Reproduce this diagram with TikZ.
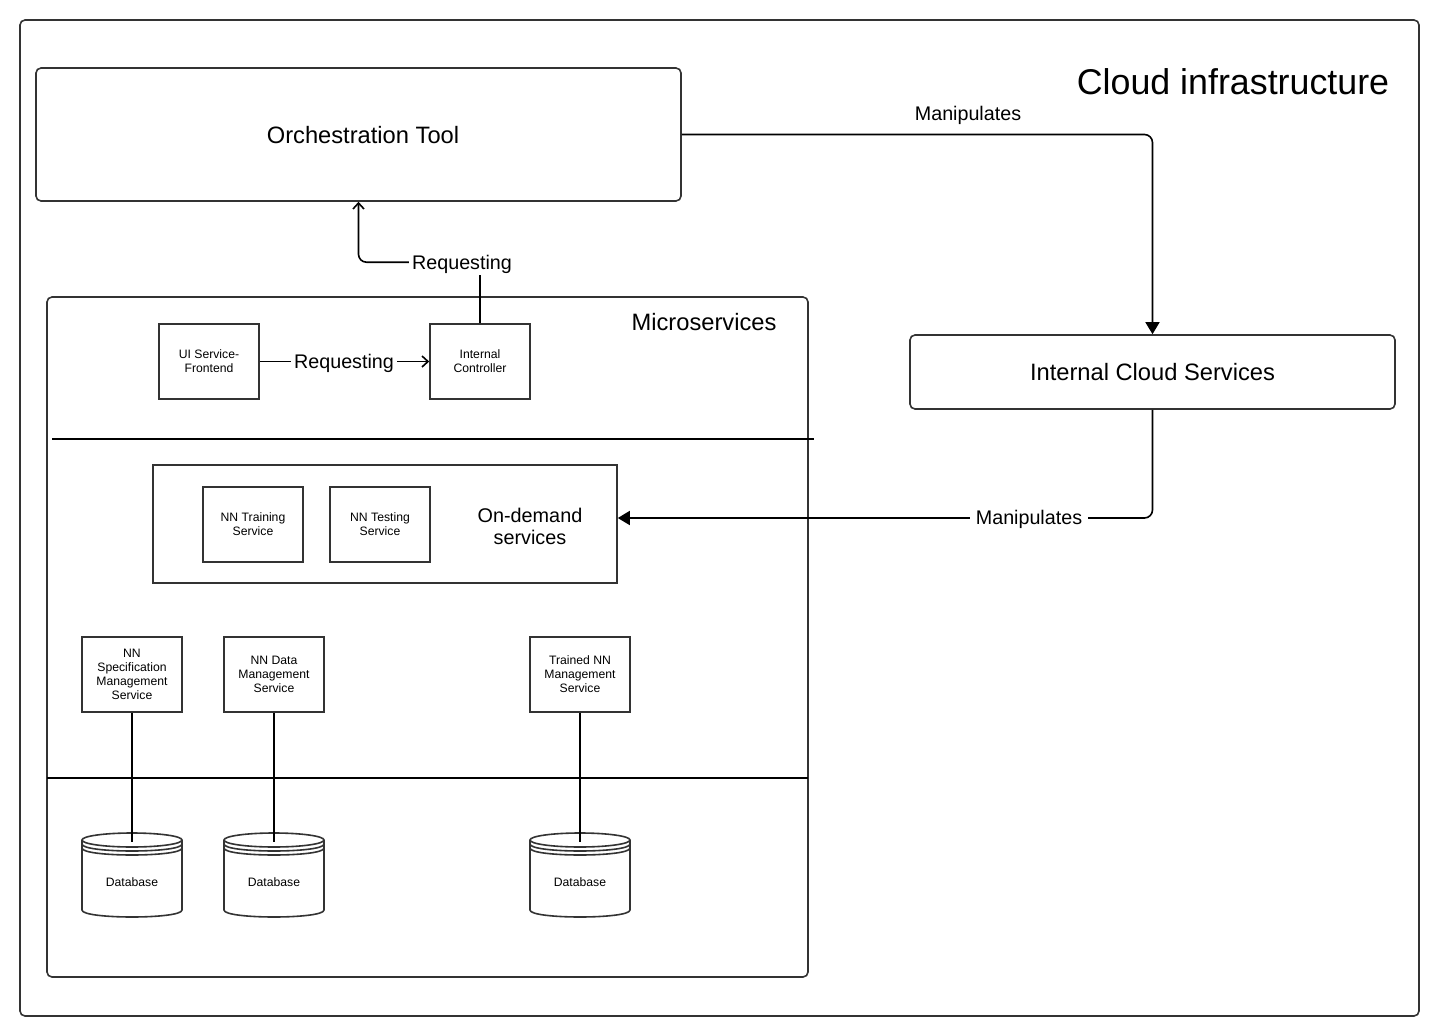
\documentclass[tikz,border=0pt]{standalone}
\usepackage{fontspec}
\setmainfont{Liberation Sans}
\usetikzlibrary{arrows.meta,calc}
\definecolor{lc}{RGB}{51,51,51}
\tikzset{
  outerframe/.style={draw=lc, line width=1.6pt, rounded corners=5pt, inner sep=0pt},
  bigbox/.style={draw=lc, line width=1.6pt, rounded corners=5pt, inner sep=0pt, font=\fontsize{23.7}{28}\selectfont},
  svc/.style={draw=lc, line width=1.6pt, minimum width=100pt, minimum height=75pt, inner sep=0pt, align=center, font=\fontsize{12.2}{14}\selectfont},
  title/.style={inner sep=0pt, font=\fontsize{23.7}{28}\selectfont},
  bigtitle/.style={inner sep=0pt, font=\fontsize{35.8}{40}\selectfont},
  lbl/.style={fill=white, inner xsep=3.5pt, inner ysep=2pt, font=\fontsize{19.7}{22}\selectfont},
  midtext/.style={inner sep=0pt, align=center, font=\fontsize{19.8}{22}\selectfont},
  dbtext/.style={inner sep=0pt, font=\fontsize{12.2}{14}\selectfont},
  conn/.style={draw=black, line width=1.6pt},
  sepline/.style={draw=black, line width=1.6pt},
  dbline/.style={draw=lc, line width=1.6pt, fill=white},
  openarr/.style={conn, -{Straight Barb[length=6pt,width=11pt]}},
  blockarr/.style={conn, -{Triangle[length=12pt,width=14pt]}},
}
\newcommand\database[2]{%
  \draw[dbline] (#2-50,840) -- (#2-50,910) .. controls (#2-50,919.33) and (#2+50,919.33) .. (#2+50,910) -- (#2+50,840);
  \draw[dbline] (#2,840) ellipse [x radius=50pt, y radius=7pt];
  \draw[dbline, fill=none] (#2-50,844) .. controls (#2-50,853.33) and (#2+50,853.33) .. (#2+50,844);
  \draw[dbline, fill=none] (#2-50,848) .. controls (#2-50,857.33) and (#2+50,857.33) .. (#2+50,848);
  \node[dbtext] (#1) at (#2,882) {Database};
  \coordinate (#1top) at (#2,842);
}
\begin{document}
\begin{tikzpicture}[x=1pt,y=-1pt]
\useasboundingbox (0,0) rectangle (1441,1036);
% frames
\node[outerframe, minimum width=1399pt, minimum height=996pt] (frame) at (719.5,518) {};
\node[bigtitle] (cloud) at (1233,82) {Cloud infrastructure};
\node[draw=lc, line width=1.6pt, rounded corners=5pt, minimum width=645pt, minimum height=133pt] (orch) at (358.5,134.5) {};
\node[title] (orchtext) at (363,135.5) {Orchestration Tool};
\node[bigbox, minimum width=485pt, minimum height=74pt] (ics) at (1152.5,372) {Internal Cloud Services};
\node[outerframe, minimum width=761pt, minimum height=680pt] (ms) at (427.5,637) {};
\node[title] (mstitle) at (704,322) {Microservices};
% separators
\draw[sepline] (52,439) -- (814,439);
\draw[sepline] (47,778) -- (808,778);
% services
\node[svc] (ui) at (209,361.5) {UI Service-\\Frontend};
\node[svc] (ic) at (480,361.5) {Internal\\Controller};
\node[draw=lc, line width=1.6pt, minimum width=464pt, minimum height=118pt, inner sep=0pt] (od) at (385,524) {};
\node[svc] (train) at (253,524.5) {NN Training\\Service};
\node[svc] (test) at (380,524.5) {NN Testing\\Service};
\node[midtext] (odtext) at (530,526) {On-demand\\services};
\node[svc] (spec) at (132,674.5) {NN\\Specification\\Management\\Service};
\node[svc] (data) at (274,674.5) {NN Data\\Management\\Service};
\node[svc] (trained) at (580,674.5) {Trained NN\\Management\\Service};
% databases
\database{db1}{132}
\database{db2}{274}
\database{db3}{580}
% connectors
\draw[conn] (spec.south) -- (db1top);
\draw[conn] (data.south) -- (db2top);
\draw[conn] (trained.south) -- (db3top);
\draw[openarr] (ui.east) -- (ic.west);
\draw[openarr, rounded corners=8pt] (ic.north) -- ++(0,-61) -| (orch.south);
\draw[blockarr, rounded corners=8pt] (orch.east) -| (ics.north);
\draw[blockarr, rounded corners=8pt] (ics.south) |- ([yshift=6pt]od.east);
% labels
\node[lbl] (req1) at (344,363) {Requesting};
\node[lbl] (req2) at (462,264) {Requesting};
\node[lbl, fill=none] (man1) at (968,115) {Manipulates};
\node[lbl, inner xsep=6pt] (man2) at (1029,519) {Manipulates};
\end{tikzpicture}
\end{document}
